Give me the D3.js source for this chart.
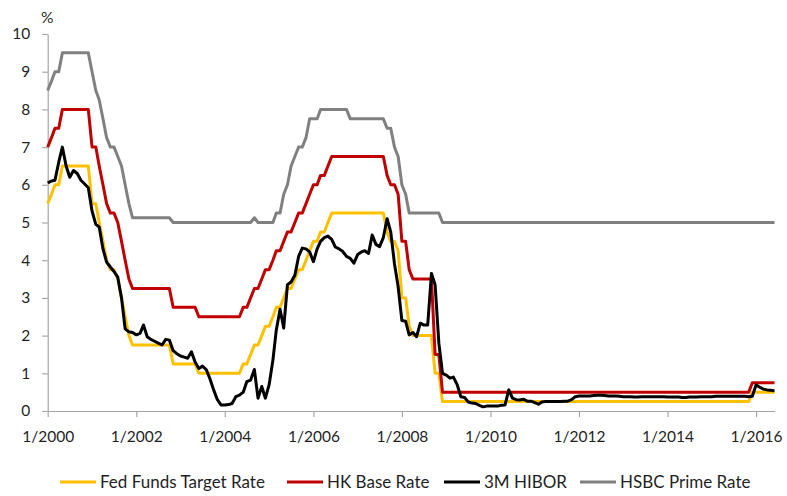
<!DOCTYPE html>
<html>
<head>
<meta charset="utf-8">
<script src="https://cdnjs.cloudflare.com/ajax/libs/d3/7.8.5/d3.min.js"></script>
<style>
  html, body { margin: 0; padding: 0; background: #fff; }
  svg { display: block; font-family: Lato, "Open Sans", sans-serif; }
</style>
</head>
<body>
<svg id="chart" width="787" height="496"></svg>
<script>
// Monthly observations, January 2000 to June 2016 (one row per year)
const firstMonth = new Date(2000, 0, 1);

const fedFunds = [
  5.5, 5.75, 6, 6, 6.5, 6.5, 6.5, 6.5, 6.5, 6.5, 6.5, 6.5,
  5.5, 5.5, 5, 4.5, 4, 3.75, 3.75, 3.5, 3, 2.5, 2, 1.75,
  1.75, 1.75, 1.75, 1.75, 1.75, 1.75, 1.75, 1.75, 1.75, 1.75, 1.25, 1.25,
  1.25, 1.25, 1.25, 1.25, 1.25, 1, 1, 1, 1, 1, 1, 1,
  1, 1, 1, 1, 1, 1.25, 1.25, 1.5, 1.75, 1.75, 2, 2.25,
  2.25, 2.5, 2.75, 2.75, 3, 3.25, 3.25, 3.5, 3.75, 3.75, 4, 4.25,
  4.5, 4.5, 4.75, 4.75, 5, 5.25, 5.25, 5.25, 5.25, 5.25, 5.25, 5.25,
  5.25, 5.25, 5.25, 5.25, 5.25, 5.25, 5.25, 5.25, 4.75, 4.5, 4.5, 4.25,
  3, 3, 2.25, 2, 2, 2, 2, 2, 2, 1, 1, 0.25,
  0.25, 0.25, 0.25, 0.25, 0.25, 0.25, 0.25, 0.25, 0.25, 0.25, 0.25, 0.25,
  0.25, 0.25, 0.25, 0.25, 0.25, 0.25, 0.25, 0.25, 0.25, 0.25, 0.25, 0.25,
  0.25, 0.25, 0.25, 0.25, 0.25, 0.25, 0.25, 0.25, 0.25, 0.25, 0.25, 0.25,
  0.25, 0.25, 0.25, 0.25, 0.25, 0.25, 0.25, 0.25, 0.25, 0.25, 0.25, 0.25,
  0.25, 0.25, 0.25, 0.25, 0.25, 0.25, 0.25, 0.25, 0.25, 0.25, 0.25, 0.25,
  0.25, 0.25, 0.25, 0.25, 0.25, 0.25, 0.25, 0.25, 0.25, 0.25, 0.25, 0.25,
  0.25, 0.25, 0.25, 0.25, 0.25, 0.25, 0.25, 0.25, 0.25, 0.25, 0.25, 0.5,
  0.5, 0.5, 0.5, 0.5, 0.5, 0.5
];

const hkBase = [
  7, 7.25, 7.5, 7.5, 8, 8, 8, 8, 8, 8, 8, 8,
  7, 7, 6.5, 6, 5.5, 5.25, 5.25, 5, 4.5, 4, 3.5, 3.25,
  3.25, 3.25, 3.25, 3.25, 3.25, 3.25, 3.25, 3.25, 3.25, 3.25, 2.75, 2.75,
  2.75, 2.75, 2.75, 2.75, 2.75, 2.5, 2.5, 2.5, 2.5, 2.5, 2.5, 2.5,
  2.5, 2.5, 2.5, 2.5, 2.5, 2.75, 2.75, 3, 3.25, 3.25, 3.5, 3.75,
  3.75, 4, 4.25, 4.25, 4.5, 4.75, 4.75, 5, 5.25, 5.25, 5.5, 5.75,
  6, 6, 6.25, 6.25, 6.5, 6.75, 6.75, 6.75, 6.75, 6.75, 6.75, 6.75,
  6.75, 6.75, 6.75, 6.75, 6.75, 6.75, 6.75, 6.75, 6.25, 6, 6, 5.75,
  4.5, 4.5, 3.75, 3.5, 3.5, 3.5, 3.5, 3.5, 3.5, 1.5, 1.5, 0.5,
  0.5, 0.5, 0.5, 0.5, 0.5, 0.5, 0.5, 0.5, 0.5, 0.5, 0.5, 0.5,
  0.5, 0.5, 0.5, 0.5, 0.5, 0.5, 0.5, 0.5, 0.5, 0.5, 0.5, 0.5,
  0.5, 0.5, 0.5, 0.5, 0.5, 0.5, 0.5, 0.5, 0.5, 0.5, 0.5, 0.5,
  0.5, 0.5, 0.5, 0.5, 0.5, 0.5, 0.5, 0.5, 0.5, 0.5, 0.5, 0.5,
  0.5, 0.5, 0.5, 0.5, 0.5, 0.5, 0.5, 0.5, 0.5, 0.5, 0.5, 0.5,
  0.5, 0.5, 0.5, 0.5, 0.5, 0.5, 0.5, 0.5, 0.5, 0.5, 0.5, 0.5,
  0.5, 0.5, 0.5, 0.5, 0.5, 0.5, 0.5, 0.5, 0.5, 0.5, 0.5, 0.75,
  0.75, 0.75, 0.75, 0.75, 0.75, 0.75
];

const hibor3m = [
  6.05, 6.1, 6.12, 6.6, 7.0, 6.5, 6.2, 6.38, 6.3, 6.12, 6.02, 5.92,
  5.3, 4.95, 4.88, 4.3, 3.95, 3.82, 3.7, 3.55, 3.0, 2.18, 2.1, 2.08,
  2.02, 2.06, 2.28, 1.97, 1.9, 1.85, 1.8, 1.75, 1.9, 1.88, 1.6, 1.52,
  1.46, 1.43, 1.4, 1.57, 1.3, 1.13, 1.19, 1.1, 0.85, 0.56, 0.3, 0.16,
  0.16, 0.17, 0.2, 0.38, 0.42, 0.5, 0.78, 0.82, 1.1, 0.34, 0.65, 0.34,
  0.7, 1.35, 2.15, 2.7, 2.2, 3.35, 3.42, 3.6, 4.1, 4.32, 4.3, 4.22,
  3.96, 4.3, 4.5, 4.6, 4.64, 4.55, 4.35, 4.3, 4.23, 4.1, 4.05, 3.92,
  4.15, 4.22, 4.25, 4.18, 4.67, 4.42, 4.36, 4.6, 5.1, 4.75, 3.9, 3.3,
  2.4, 2.38, 2.02, 2.08, 1.97, 2.33, 2.28, 2.28, 3.65, 3.35, 1.8, 1.0,
  0.95, 0.87, 0.9, 0.7, 0.38, 0.36, 0.24, 0.21, 0.2, 0.15, 0.11, 0.13,
  0.13, 0.13, 0.13, 0.15, 0.16, 0.56, 0.34, 0.3, 0.29, 0.31, 0.26, 0.26,
  0.22, 0.18, 0.24, 0.25, 0.25, 0.25, 0.25, 0.25, 0.26, 0.26, 0.3, 0.38,
  0.4, 0.4, 0.4, 0.4, 0.41, 0.42, 0.42, 0.41, 0.4, 0.4, 0.4, 0.39,
  0.38, 0.38, 0.38, 0.37, 0.37, 0.38, 0.38, 0.38, 0.38, 0.38, 0.38, 0.38,
  0.37, 0.37, 0.37, 0.37, 0.36, 0.36, 0.37, 0.37, 0.37, 0.38, 0.38, 0.38,
  0.38, 0.39, 0.39, 0.39, 0.39, 0.39, 0.39, 0.39, 0.39, 0.39, 0.38, 0.39,
  0.69, 0.63, 0.58, 0.56, 0.55, 0.54
];

const hsbcPrime = [
  8.5, 8.75, 9, 9, 9.5, 9.5, 9.5, 9.5, 9.5, 9.5, 9.5, 9.5,
  9, 8.5, 8.25, 7.75, 7.25, 7, 7, 6.75, 6.5, 6, 5.5, 5.125,
  5.125, 5.125, 5.125, 5.125, 5.125, 5.125, 5.125, 5.125, 5.125, 5.125, 5, 5,
  5, 5, 5, 5, 5, 5, 5, 5, 5, 5, 5, 5,
  5, 5, 5, 5, 5, 5, 5, 5, 5.125, 5, 5, 5,
  5, 5, 5.25, 5.25, 5.75, 6, 6.5, 6.75, 7, 7, 7.25, 7.75,
  7.75, 7.75, 8, 8, 8, 8, 8, 8, 8, 8, 7.75, 7.75,
  7.75, 7.75, 7.75, 7.75, 7.75, 7.75, 7.75, 7.75, 7.5, 7.5, 7, 6.75,
  6, 5.75, 5.25, 5.25, 5.25, 5.25, 5.25, 5.25, 5.25, 5.25, 5.25, 5,
  5, 5, 5, 5, 5, 5, 5, 5, 5, 5, 5, 5,
  5, 5, 5, 5, 5, 5, 5, 5, 5, 5, 5, 5,
  5, 5, 5, 5, 5, 5, 5, 5, 5, 5, 5, 5,
  5, 5, 5, 5, 5, 5, 5, 5, 5, 5, 5, 5,
  5, 5, 5, 5, 5, 5, 5, 5, 5, 5, 5, 5,
  5, 5, 5, 5, 5, 5, 5, 5, 5, 5, 5, 5,
  5, 5, 5, 5, 5, 5, 5, 5, 5, 5, 5, 5,
  5, 5, 5, 5, 5, 5
];

const seriesNames = ["Fed Funds Target Rate", "HK Base Rate", "3M HIBOR", "HSBC Prime Rate"];
const seriesColors = ["#FFC000", "#C00000", "#000000", "#808080"];
const yTicks = [0, 1, 2, 3, 4, 5, 6, 7, 8, 9, 10];
const xTickYears = [2000, 2002, 2004, 2006, 2008, 2010, 2012, 2014, 2016];

const seriesValues = [fedFunds, hkBase, hibor3m, hsbcPrime];
const dates = fedFunds.map((_, i) => d3.timeMonth.offset(firstMonth, i));

const svg = d3.select("#chart");
const plot = { left: 47.7, right: 774.5, top: 34, bottom: 411 };

const x = d3.scaleTime()
  .domain([firstMonth, dates[dates.length - 1]])
  .range([plot.left, plot.right]);
const y = d3.scaleLinear().domain([0, 10]).range([plot.bottom, plot.top]);

const axisColor = "#a6a6a6";
const textColor = "#1f1f1f";

// y axis
const yAxis = svg.append("g")
  .attr("transform", `translate(${plot.left},0)`)
  .call(d3.axisLeft(y).tickValues(yTicks).tickSize(5.5).tickSizeOuter(0).tickPadding(12));
// x axis
const xAxis = svg.append("g")
  .attr("transform", `translate(0,${plot.bottom})`)
  .call(d3.axisBottom(x)
    .tickValues(xTickYears.map(yr => new Date(yr, 0, 1)))
    .tickFormat(d => "1/" + d.getFullYear())
    .tickSize(6).tickSizeOuter(0).tickPadding(14));

[yAxis, xAxis].forEach(g => {
  g.select(".domain").attr("stroke", axisColor).attr("stroke-width", 1.2);
  g.selectAll(".tick line").attr("stroke", axisColor).attr("stroke-width", 1.2);
  g.selectAll(".tick text").attr("fill", textColor)
    .style("font-size", "15.5px").style("font-family", "Lato, sans-serif");
});

svg.append("text")
  .attr("x", 41).attr("y", 22.5)
  .attr("fill", textColor)
  .style("font-size", "15.5px")
  .text("%");

// series lines
const line = d3.line()
  .x((d, i) => x(dates[i]))
  .y(d => y(d));

seriesValues.forEach((vals, k) => {
  svg.append("path")
    .datum(vals)
    .attr("fill", "none")
    .attr("stroke", seriesColors[k])
    .attr("stroke-width", 3)
    .attr("stroke-linejoin", "round")
    .attr("stroke-linecap", "butt")
    .attr("d", line);
});

// legend
const legendY = 482;
const legendX = [60, 287, 444, 580];
const legend = svg.append("g");
seriesNames.forEach((name, k) => {
  const g = legend.append("g").attr("transform", `translate(${legendX[k]},${legendY})`);
  g.append("line")
    .attr("x1", 0).attr("x2", 36).attr("y1", 0).attr("y2", 0)
    .attr("stroke", seriesColors[k]).attr("stroke-width", 3);
  g.append("text")
    .attr("x", 40).attr("y", 0).attr("dy", "0.35em")
    .attr("fill", textColor)
    .style("font-size", "17px")
    .text(name);
});
</script>
</body>
</html>
